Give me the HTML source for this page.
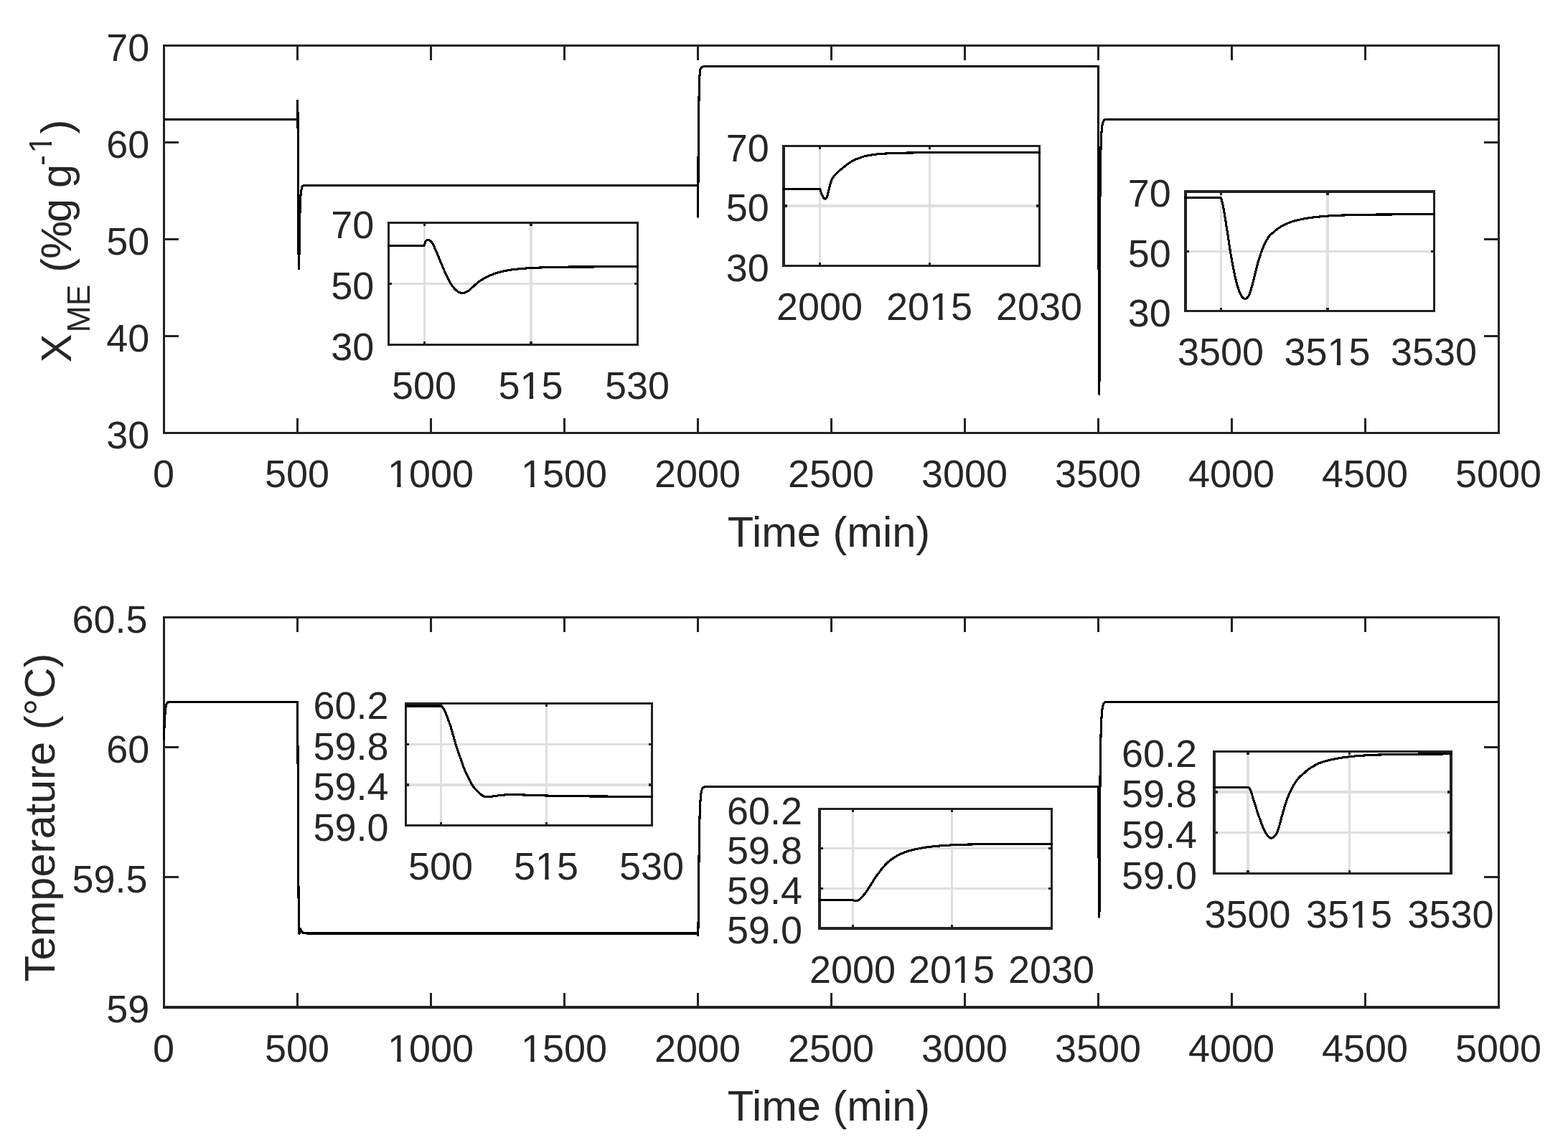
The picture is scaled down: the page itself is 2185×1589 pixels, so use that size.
<!DOCTYPE html>
<html lang="en">
<head>
<meta charset="utf-8">
<title>Step responses: X_ME and temperature versus time</title>
<style>
html,body{margin:0;padding:0;background:#fff;}
body{width:2185px;height:1589px;overflow:hidden;}
svg{display:block;font-family:'Liberation Sans', Arial, Helvetica, sans-serif;}
.ax{fill:none;stroke:#222222;stroke-width:3.125;stroke-linecap:butt;stroke-linejoin:miter;shape-rendering:crispEdges;}
.gr{fill:none;stroke:#dfdfdf;stroke-width:3.125;shape-rendering:crispEdges;}
.cv{fill:none;stroke:#000;stroke-width:3.125;stroke-linejoin:round;stroke-linecap:butt;shape-rendering:crispEdges;}
.tl{font-size:53.94px;fill:#262626;}
.al{font-size:59.58px;fill:#262626;}
</style>
</head>
<body>
<svg xmlns="http://www.w3.org/2000/svg" width="2185" height="1589" viewBox="0 0 2185 1589">
<rect width="2185" height="1589" fill="#fff"/>
<g id="axes-top">
<path class="ax" d="M414.5 603.5v-20.2M414.5 63.5v20.2M600.5 603.5v-20.2M600.5 63.5v20.2M786.5 603.5v-20.2M786.5 63.5v20.2M972.5 603.5v-20.2M972.5 63.5v20.2M1158.5 603.5v-20.2M1158.5 63.5v20.2M1344.5 603.5v-20.2M1344.5 63.5v20.2M1530.5 603.5v-20.2M1530.5 63.5v20.2M1716.5 603.5v-20.2M1716.5 63.5v20.2M1902.5 603.5v-20.2M1902.5 63.5v20.2M228.5 468.5h20.2M2088.5 468.5h-20.2M228.5 333.5h20.2M2088.5 333.5h-20.2M228.5 198.5h20.2M2088.5 198.5h-20.2"/>
<rect class="ax" x="228.5" y="63.5" width="1860" height="540"/>
<polyline class="cv" points="228.5,166.51 414.5,166.51 414.54,154.09 414.57,146.92 414.61,142.7 414.65,141.17 414.69,140.32 414.72,140.06 414.76,140.89 414.8,142.51 414.83,144.48 414.87,147.33 414.91,150.99 414.95,156.06 414.98,162.59 415.02,169.12 415.06,175.95 415.1,183.01 415.13,190.26 415.17,197.73 415.21,205.34 415.24,213.03 415.28,220.7 415.32,228.3 415.36,235.93 415.39,243.59 415.43,251.23 415.47,258.77 415.5,266.16 415.54,273.4 415.58,280.61 415.62,287.72 415.65,294.65 415.69,301.33 415.73,307.69 415.76,313.89 415.8,319.96 415.84,325.79 415.88,331.27 415.91,336.29 415.95,340.81 415.99,345.06 416.03,349.04 416.06,352.73 416.1,356.12 416.14,359.19 416.17,362.18 416.21,365.12 416.25,367.82 416.29,370.1 416.32,371.76 416.36,372.74 416.4,373.56 416.43,374.22 416.47,374.66 416.51,374.79 416.55,374.52 416.58,373.85 416.62,372.87 416.66,371.64 416.69,370.25 416.73,368.77 416.77,367.24 416.81,365.24 416.84,362.78 416.88,360.03 416.92,357.17 416.96,354.36 416.99,351.62 417.03,348.77 417.07,345.84 417.1,342.91 417.14,340.02 417.18,337.24 417.22,334.47 417.25,331.7 417.29,329 417.33,326.41 417.36,324 417.4,321.79 417.44,319.75 417.48,317.81 417.51,315.95 417.55,314.1 417.59,312.23 417.62,310.31 417.66,308.38 417.7,306.48 417.74,304.66 417.77,302.98 417.81,301.45 417.85,300.04 417.89,298.71 417.92,297.44 417.96,296.21 418,294.98 418.03,293.78 418.07,292.6 418.11,291.45 418.15,290.33 418.18,289.23 418.22,288.16 418.26,287.08 418.29,286.03 418.33,284.99 418.37,283.99 418.41,283.05 418.44,282.16 418.48,281.33 418.52,280.53 418.55,279.75 418.59,279 418.63,278.28 418.67,277.58 418.7,276.9 418.74,276.25 418.78,275.61 418.82,274.99 418.85,274.39 418.89,273.8 418.93,273.24 418.96,272.7 419,272.19 419.04,271.72 419.08,271.3 419.11,270.9 419.15,270.52 419.19,270.16 419.22,269.82 419.26,269.49 419.3,269.17 419.34,268.86 419.37,268.55 419.41,268.25 419.45,267.94 419.48,267.63 419.52,267.33 419.56,267.04 419.6,266.75 419.63,266.47 419.67,266.2 419.71,265.94 419.75,265.69 419.78,265.46 419.82,265.24 419.86,265.03 419.89,264.83 419.93,264.64 419.97,264.44 420.01,264.26 420.04,264.07 420.08,263.89 420.12,263.72 420.15,263.55 420.19,263.38 420.23,263.23 420.27,263.07 420.3,262.92 420.34,262.78 420.38,262.64 420.41,262.51 420.45,262.38 420.49,262.26 420.53,262.15 420.56,262.04 420.6,261.94 420.64,261.84 420.68,261.73 420.71,261.63 420.75,261.53 420.79,261.43 420.82,261.33 420.86,261.24 420.9,261.14 420.94,261.05 420.97,260.95 421.01,260.86 421.05,260.77 421.08,260.68 421.12,260.59 421.16,260.5 421.2,260.42 421.23,260.33 421.27,260.25 421.31,260.17 421.34,260.1 421.38,260.02 421.42,259.95 421.46,259.88 421.49,259.81 421.53,259.74 421.57,259.67 421.61,259.61 421.64,259.55 421.68,259.5 421.72,259.44 421.75,259.39 421.79,259.34 421.83,259.3 421.87,259.25 421.9,259.21 421.94,259.17 421.98,259.14 422.01,259.11 422.05,259.08 422.09,259.06 422.13,259.04 422.16,259.02 422.2,259 422.24,258.98 422.27,258.96 422.31,258.94 422.35,258.93 422.39,258.91 422.42,258.89 422.46,258.88 422.5,258.86 422.54,258.85 422.57,258.84 422.61,258.82 422.65,258.81 422.68,258.8 422.72,258.79 422.76,258.77 422.8,258.76 422.83,258.75 422.87,258.74 422.91,258.73 422.94,258.72 422.98,258.72 423.02,258.71 423.06,258.7 423.09,258.69 423.13,258.69 423.17,258.68 423.2,258.67 423.24,258.67 423.28,258.66 423.32,258.66 423.35,258.65 423.39,258.65 423.43,258.64 423.5,258.64 423.54,258.63 423.61,258.63 423.65,258.62 423.73,258.62 423.76,258.61 423.87,258.61 423.91,258.6 424.02,258.6 424.06,258.59 424.17,258.59 424.21,258.58 424.36,258.58 424.4,258.57 424.54,258.57 424.58,258.56 424.77,258.56 424.8,258.55 425.03,258.55 425.06,258.54 425.36,258.54 425.4,258.53 425.77,258.53 425.81,258.52 426.4,258.52 426.44,258.51 427.3,258.51 427.33,258.5 431.05,258.5 431.09,258.49 972.5,258.49 972.54,271.46 972.57,280.94 972.61,287.67 972.65,293.1 972.69,297.99 972.72,300.83 972.76,302.13 972.8,300.05 972.83,294.79 972.87,284.72 972.91,271.31 972.95,258.14 972.98,244.87 973.02,232.97 973.06,223.08 973.1,215 973.13,208.76 973.17,203.52 973.21,199.15 973.24,195.48 973.28,192.24 973.32,189.22 973.36,186.16 973.39,182.88 973.43,179.47 973.47,176.08 973.5,172.83 973.54,169.83 973.58,167.08 973.62,164.5 973.65,161.98 973.69,159.41 973.73,156.75 973.76,154.05 973.8,151.37 973.84,148.79 973.88,146.36 973.91,144.03 973.95,141.79 973.99,139.61 974.03,137.47 974.06,135.33 974.1,133.22 974.14,131.21 974.17,129.37 974.21,127.74 974.25,126.25 974.29,124.84 974.32,123.41 974.36,121.9 974.4,120.44 974.43,119.21 974.47,118.11 974.51,117.04 974.55,115.92 974.58,114.8 974.62,113.69 974.66,112.54 974.69,111.4 974.73,110.39 974.77,109.55 974.81,108.79 974.84,108.1 974.88,107.43 974.92,106.78 974.96,106.15 974.99,105.54 975.03,104.96 975.07,104.4 975.1,103.88 975.14,103.38 975.18,102.88 975.22,102.41 975.25,101.95 975.29,101.52 975.33,101.13 975.36,100.77 975.4,100.44 975.44,100.11 975.48,99.8 975.51,99.5 975.55,99.21 975.59,98.94 975.62,98.68 975.66,98.43 975.7,98.19 975.74,97.98 975.77,97.78 975.81,97.6 975.85,97.44 975.89,97.29 975.92,97.14 975.96,96.99 976,96.85 976.03,96.71 976.07,96.57 976.11,96.44 976.15,96.31 976.18,96.19 976.22,96.06 976.26,95.94 976.29,95.83 976.33,95.71 976.37,95.6 976.41,95.5 976.44,95.39 976.48,95.29 976.52,95.2 976.55,95.11 976.59,95.02 976.63,94.93 976.67,94.85 976.7,94.77 976.74,94.7 976.78,94.62 976.82,94.56 976.85,94.49 976.89,94.43 976.93,94.38 976.96,94.32 977,94.28 977.04,94.23 977.08,94.19 977.11,94.15 977.15,94.11 977.19,94.08 977.22,94.05 977.26,94.01 977.3,93.98 977.34,93.96 977.37,93.93 977.41,93.9 977.45,93.88 977.48,93.85 977.52,93.83 977.56,93.8 977.6,93.78 977.63,93.76 977.67,93.74 977.71,93.71 977.75,93.69 977.78,93.67 977.82,93.65 977.86,93.62 977.89,93.6 977.93,93.58 977.97,93.56 978.01,93.53 978.04,93.51 978.08,93.49 978.12,93.47 978.15,93.45 978.19,93.43 978.23,93.41 978.27,93.39 978.3,93.37 978.34,93.35 978.38,93.34 978.41,93.32 978.45,93.3 978.49,93.28 978.53,93.27 978.56,93.25 978.6,93.24 978.64,93.22 978.68,93.2 978.71,93.19 978.75,93.17 978.79,93.16 978.82,93.14 978.86,93.13 978.9,93.11 978.94,93.1 978.97,93.08 979.01,93.07 979.05,93.06 979.08,93.04 979.12,93.03 979.16,93.02 979.2,93 979.23,92.99 979.27,92.98 979.31,92.97 979.34,92.95 979.38,92.94 979.42,92.93 979.46,92.92 979.49,92.91 979.53,92.9 979.57,92.89 979.61,92.88 979.64,92.87 979.68,92.86 979.72,92.85 979.75,92.84 979.79,92.83 979.83,92.82 979.87,92.81 979.9,92.81 979.94,92.8 979.98,92.79 980.01,92.78 980.05,92.77 980.09,92.76 980.13,92.75 980.16,92.75 980.2,92.74 980.24,92.73 980.27,92.72 980.31,92.71 980.35,92.71 980.39,92.7 980.42,92.69 980.46,92.68 980.5,92.68 980.54,92.67 980.57,92.66 980.61,92.65 980.65,92.65 980.68,92.64 980.72,92.63 980.76,92.63 980.8,92.62 980.83,92.61 980.87,92.61 980.91,92.6 980.94,92.6 980.98,92.59 981.02,92.58 981.06,92.58 981.09,92.57 981.13,92.57 981.17,92.56 981.2,92.56 981.24,92.55 981.28,92.55 981.32,92.54 981.35,92.54 981.39,92.53 981.47,92.53 981.5,92.52 981.54,92.52 981.58,92.51 981.65,92.51 981.69,92.5 981.76,92.5 981.8,92.49 981.87,92.49 981.91,92.48 981.99,92.48 982.02,92.47 982.06,92.47 982.1,92.46 982.21,92.46 982.25,92.45 982.32,92.45 982.36,92.44 982.43,92.44 982.47,92.43 982.54,92.43 982.58,92.42 982.69,92.42 982.73,92.41 982.8,92.41 982.84,92.4 982.95,92.4 982.99,92.39 983.1,92.39 983.14,92.38 983.25,92.38 983.29,92.37 983.44,92.37 983.47,92.36 983.62,92.36 983.66,92.35 983.85,92.35 983.88,92.34 984.11,92.34 984.14,92.33 984.48,92.33 984.52,92.32 984.96,92.32 985,92.31 985.48,92.31 985.52,92.3 986.08,92.3 986.12,92.29 986.75,92.29 986.78,92.28 987.53,92.28 987.57,92.27 988.68,92.27 988.72,92.26 990.06,92.26 1530.5,92.25 1530.54,102.77 1530.57,115.47 1530.61,129.92 1530.65,146.93 1530.69,167 1530.72,187.99 1530.76,208.09 1530.8,228.03 1530.83,248.24 1530.87,269.06 1530.91,291.12 1530.95,313.15 1530.98,333.46 1531.02,352.23 1531.06,370.05 1531.1,387.21 1531.13,403.99 1531.17,420.48 1531.21,436.39 1531.24,451.39 1531.28,465.3 1531.32,478.35 1531.36,489.92 1531.39,499.88 1531.43,508.97 1531.47,517.12 1531.5,524.24 1531.54,530.79 1531.58,536.69 1531.62,541.22 1531.65,544.21 1531.69,546.82 1531.73,548.68 1531.76,549.33 1531.8,548.33 1531.84,545.96 1531.88,542.82 1531.91,539.17 1531.95,533.82 1531.99,527.05 1532.03,518.89 1532.06,508.17 1532.1,496.34 1532.14,484.77 1532.17,472.91 1532.21,460.57 1532.25,447.48 1532.29,433.85 1532.32,420.75 1532.36,408.02 1532.4,395.82 1532.43,384.37 1532.47,373.46 1532.51,363.04 1532.55,352.98 1532.58,343.22 1532.62,333.98 1532.66,325.47 1532.69,317.43 1532.73,309.8 1532.77,302.67 1532.81,296.14 1532.84,290.07 1532.88,284.21 1532.92,278.65 1532.96,273.45 1532.99,268.69 1533.03,264.47 1533.07,260.83 1533.1,257.63 1533.14,254.75 1533.18,252.1 1533.22,249.55 1533.25,247.02 1533.29,244.39 1533.33,241.68 1533.36,238.95 1533.4,236.25 1533.44,233.6 1533.48,231.07 1533.51,228.67 1533.55,226.46 1533.59,224.4 1533.62,222.44 1533.66,220.56 1533.7,218.77 1533.74,217.05 1533.77,215.4 1533.81,213.8 1533.85,212.28 1533.89,210.84 1533.92,209.46 1533.96,208.12 1534,206.79 1534.03,205.45 1534.07,204.09 1534.11,202.73 1534.15,201.44 1534.18,200.25 1534.22,199.21 1534.26,198.28 1534.29,197.43 1534.33,196.59 1534.37,195.73 1534.41,194.89 1534.44,194.07 1534.48,193.28 1534.52,192.53 1534.55,191.8 1534.59,191.1 1534.63,190.41 1534.67,189.73 1534.7,189.06 1534.74,188.4 1534.78,187.76 1534.82,187.14 1534.85,186.55 1534.89,185.97 1534.93,185.41 1534.96,184.87 1535,184.34 1535.04,183.82 1535.08,183.31 1535.11,182.8 1535.15,182.3 1535.19,181.8 1535.22,181.32 1535.26,180.87 1535.3,180.44 1535.34,180.04 1535.37,179.66 1535.41,179.29 1535.45,178.93 1535.48,178.59 1535.52,178.26 1535.56,177.94 1535.6,177.63 1535.63,177.32 1535.67,177.03 1535.71,176.73 1535.75,176.44 1535.78,176.15 1535.82,175.87 1535.86,175.59 1535.89,175.32 1535.93,175.06 1535.97,174.8 1536.01,174.55 1536.04,174.32 1536.08,174.09 1536.12,173.88 1536.15,173.67 1536.19,173.47 1536.23,173.28 1536.27,173.08 1536.3,172.89 1536.34,172.7 1536.38,172.51 1536.41,172.33 1536.45,172.16 1536.49,171.99 1536.53,171.82 1536.56,171.66 1536.6,171.5 1536.64,171.35 1536.68,171.21 1536.71,171.07 1536.75,170.95 1536.79,170.82 1536.82,170.71 1536.86,170.61 1536.9,170.51 1536.94,170.42 1536.97,170.33 1537.01,170.24 1537.05,170.15 1537.08,170.06 1537.12,169.97 1537.16,169.88 1537.2,169.8 1537.23,169.71 1537.27,169.63 1537.31,169.55 1537.34,169.47 1537.38,169.39 1537.42,169.31 1537.46,169.23 1537.49,169.16 1537.53,169.08 1537.57,169.01 1537.61,168.94 1537.64,168.86 1537.68,168.79 1537.72,168.73 1537.75,168.66 1537.79,168.59 1537.83,168.53 1537.87,168.46 1537.9,168.4 1537.94,168.34 1537.98,168.28 1538.01,168.22 1538.05,168.17 1538.09,168.11 1538.13,168.06 1538.16,168.01 1538.2,167.96 1538.24,167.91 1538.27,167.86 1538.31,167.81 1538.35,167.77 1538.39,167.73 1538.42,167.68 1538.46,167.64 1538.5,167.6 1538.54,167.57 1538.57,167.53 1538.61,167.5 1538.65,167.47 1538.68,167.44 1538.72,167.41 1538.76,167.38 1538.8,167.35 1538.83,167.33 1538.87,167.31 1538.91,167.29 1538.94,167.27 1538.98,167.25 1539.02,167.23 1539.06,167.22 1539.09,167.2 1539.13,167.19 1539.17,167.17 1539.2,167.16 1539.24,167.15 1539.28,167.14 1539.32,167.12 1539.35,167.11 1539.39,167.1 1539.43,167.09 1539.47,167.08 1539.5,167.07 1539.54,167.06 1539.58,167.05 1539.61,167.04 1539.65,167.03 1539.69,167.02 1539.73,167.01 1539.76,167 1539.8,166.99 1539.84,166.98 1539.87,166.97 1539.91,166.96 1539.95,166.95 1539.99,166.94 1540.02,166.93 1540.06,166.93 1540.1,166.92 1540.13,166.91 1540.17,166.9 1540.21,166.89 1540.25,166.88 1540.28,166.88 1540.32,166.87 1540.36,166.86 1540.4,166.86 1540.43,166.85 1540.47,166.84 1540.51,166.84 1540.54,166.83 1540.58,166.82 1540.62,166.82 1540.66,166.81 1540.69,166.81 1540.73,166.8 1540.77,166.79 1540.8,166.79 1540.84,166.78 1540.88,166.78 1540.92,166.77 1540.95,166.77 1540.99,166.76 1541.03,166.75 1541.06,166.75 1541.1,166.74 1541.14,166.74 1541.18,166.73 1541.25,166.73 1541.29,166.72 1541.33,166.72 1541.36,166.71 1541.4,166.71 1541.44,166.7 1541.51,166.7 1541.55,166.69 1541.62,166.69 1541.66,166.68 1541.73,166.68 1541.77,166.67 1541.85,166.67 1541.88,166.66 1541.99,166.66 1542.03,166.65 1542.11,166.65 1542.14,166.64 1542.26,166.64 1542.29,166.63 1542.4,166.63 1542.44,166.62 1542.55,166.62 1542.59,166.61 1542.7,166.61 1542.74,166.6 1542.89,166.6 1542.92,166.59 1543.11,166.59 1543.15,166.58 1543.37,166.58 1543.41,166.57 1543.71,166.57 1543.74,166.56 1544.08,166.56 1544.12,166.55 1544.52,166.55 1544.56,166.54 1545.01,166.54 1545.05,166.53 1545.64,166.53 1545.68,166.52 1547.31,166.52 1547.35,166.51 2088.5,166.51"/>
<g class="tl">
<text x="213" y="679.4">0</text>
<text x="369" y="679.4">500</text>
<text x="540" y="679.4">1000</text>
<text x="726" y="679.4">1500</text>
<text x="912" y="679.4">2000</text>
<text x="1098" y="679.4">2500</text>
<text x="1284" y="679.4">3000</text>
<text x="1470" y="679.4">3500</text>
<text x="1656" y="679.4">4000</text>
<text x="1842" y="679.4">4500</text>
<text x="2028" y="679.4">5000</text>
<text x="148.3" y="624.8">30</text>
<text x="148.3" y="489.8">40</text>
<text x="148.3" y="354.8">50</text>
<text x="148.3" y="219.8">60</text>
<text x="148.3" y="84.8">70</text>
</g>
<text class="al" text-anchor="middle" x="1155" y="761.5">Time (min)</text>
</g>
<g id="inset-a1">
<rect x="541.5" y="310.5" width="347" height="170" fill="#fff"/>
<path class="gr" d="M591.5 310.5V480.5M740 310.5V480.5M541.5 395.5H888.5"/>
<path class="ax" d="M591.5 480.5v-4.6M591.5 310.5v4.6M740 480.5v-4.6M740 310.5v4.6M541.5 395.5h4.6M888.5 395.5h-4.6"/>
<rect class="ax" x="541.5" y="310.5" width="347" height="170"/>
<polyline class="cv" points="539.94,342.93 591.07,342.93 592.06,339.02 593.05,336.76 594.05,335.43 595.04,334.95 596.03,334.68 597.02,334.6 598.01,334.86 599,335.37 599.99,335.99 600.99,336.89 601.98,338.04 602.97,339.64 603.96,341.69 604.95,343.75 605.94,345.9 606.93,348.12 607.93,350.41 608.92,352.76 609.91,355.15 610.9,357.57 611.89,359.99 612.88,362.38 613.87,364.78 614.87,367.19 615.86,369.6 616.85,371.97 617.84,374.3 618.83,376.58 619.82,378.85 620.81,381.09 621.81,383.27 622.8,385.37 623.79,387.37 624.78,389.33 625.77,391.24 626.76,393.07 627.75,394.8 628.75,396.38 629.74,397.8 630.73,399.14 631.72,400.39 632.71,401.55 633.7,402.62 634.69,403.59 635.69,404.53 636.68,405.46 637.67,406.31 638.66,407.02 639.65,407.54 640.64,407.85 641.63,408.11 642.63,408.32 643.62,408.46 644.61,408.5 645.6,408.41 646.59,408.2 647.58,407.89 648.57,407.51 649.57,407.07 650.56,406.6 651.55,406.12 652.54,405.49 653.53,404.72 654.52,403.85 655.51,402.95 656.51,402.07 657.5,401.21 658.49,400.31 659.48,399.39 660.47,398.46 661.46,397.55 662.45,396.68 663.45,395.8 664.44,394.93 665.43,394.08 666.42,393.27 667.41,392.51 668.4,391.81 669.39,391.17 670.39,390.56 671.38,389.97 672.37,389.39 673.36,388.8 674.35,388.2 675.34,387.59 676.33,386.99 677.33,386.42 678.32,385.89 679.31,385.41 680.3,384.97 681.29,384.55 682.28,384.15 683.27,383.76 684.27,383.37 685.26,382.99 686.25,382.62 687.24,382.26 688.23,381.91 689.22,381.56 690.21,381.22 691.21,380.89 692.2,380.55 693.19,380.23 694.18,379.91 695.17,379.62 696.16,379.34 697.15,379.08 698.15,378.82 699.14,378.58 700.13,378.34 701.12,378.12 702.11,377.9 703.1,377.68 704.09,377.48 705.09,377.28 706.08,377.08 707.07,376.89 708.06,376.71 709.05,376.53 710.04,376.36 711.03,376.2 712.03,376.05 713.02,375.92 714.01,375.79 715,375.67 715.99,375.56 716.98,375.45 717.97,375.35 718.97,375.25 719.96,375.15 720.95,375.05 721.94,374.96 722.93,374.86 723.92,374.76 724.91,374.67 725.91,374.58 726.9,374.49 727.89,374.4 728.88,374.31 729.87,374.23 730.86,374.15 731.85,374.08 732.85,374.01 733.84,373.95 734.83,373.88 735.82,373.82 736.81,373.76 737.8,373.7 738.79,373.64 739.79,373.59 740.78,373.53 741.77,373.48 742.76,373.43 743.75,373.38 744.74,373.33 745.73,373.28 746.73,373.24 747.72,373.19 748.71,373.15 749.7,373.11 750.69,373.07 751.68,373.04 752.67,373 753.67,372.97 754.66,372.94 755.65,372.91 756.64,372.88 757.63,372.84 758.62,372.81 759.61,372.78 760.61,372.75 761.6,372.72 762.59,372.69 763.58,372.66 764.57,372.63 765.56,372.6 766.55,372.57 767.55,372.55 768.54,372.52 769.53,372.49 770.52,372.47 771.51,372.44 772.5,372.42 773.49,372.39 774.49,372.37 775.48,372.34 776.47,372.32 777.46,372.3 778.45,372.28 779.44,372.26 780.43,372.24 781.43,372.22 782.42,372.2 783.41,372.19 784.4,372.17 785.39,372.15 786.38,372.14 787.37,372.13 788.37,372.11 789.36,372.1 790.35,372.09 791.34,372.08 792.33,372.07 793.32,372.06 794.31,372.06 795.31,372.05 796.3,372.05 797.29,372.04 798.28,372.03 799.27,372.03 800.26,372.02 801.25,372.02 802.25,372.01 803.24,372.01 804.23,372 805.22,372 806.21,371.99 808.19,371.99 809.19,371.98 811.17,371.98 812.16,371.97 814.14,371.97 815.13,371.96 817.12,371.96 818.11,371.95 822.07,371.95 823.07,371.94 828.02,371.94 829.01,371.93 836.95,371.93 837.94,371.92 849.83,371.92 850.83,371.91 867.68,371.91 868.67,371.9 890.06,371.9"/>
<g class="tl">
<text x="546" y="556.4">500</text>
<text x="694.5" y="556.4">515</text>
<text x="843" y="556.4">530</text>
<text x="461.3" y="501.8">30</text>
<text x="461.3" y="416.8">50</text>
<text x="461.3" y="331.8">70</text>
</g>
</g>
<g id="inset-a2">
<rect x="1092" y="203.5" width="356.5" height="167" fill="#fff"/>
<path class="gr" d="M1142.5 203.5V370.5M1295.5 203.5V370.5M1092 287H1448.5"/>
<path class="ax" d="M1142.5 370.5v-4.6M1142.5 203.5v4.6M1295.5 370.5v-4.6M1295.5 203.5v4.6M1092 287h4.6M1448.5 287h-4.6"/>
<rect class="ax" x="1092" y="203.5" width="356.5" height="167"/>
<polyline class="cv" points="1090.44,263.8 1142.93,263.8 1143.95,267.81 1144.97,270.74 1145.98,272.83 1147,274.5 1148.02,276.02 1149.04,276.9 1150.06,277.3 1151.08,276.66 1152.1,275.03 1153.11,271.92 1154.13,267.77 1155.15,263.69 1156.17,259.59 1157.19,255.91 1158.21,252.85 1159.23,250.35 1160.24,248.42 1161.26,246.8 1162.28,245.45 1163.3,244.31 1164.32,243.32 1165.34,242.38 1166.36,241.43 1167.37,240.42 1168.39,239.37 1169.41,238.32 1170.43,237.31 1171.45,236.38 1172.47,235.53 1173.49,234.74 1174.5,233.95 1175.52,233.16 1176.54,232.34 1177.56,231.5 1178.58,230.68 1179.6,229.88 1180.62,229.12 1181.63,228.41 1182.65,227.71 1183.67,227.04 1184.69,226.38 1185.71,225.71 1186.73,225.06 1187.75,224.44 1188.76,223.87 1189.78,223.37 1190.8,222.91 1191.82,222.47 1192.84,222.03 1193.86,221.56 1194.88,221.11 1195.89,220.73 1196.91,220.39 1197.93,220.06 1198.95,219.71 1199.97,219.37 1200.99,219.02 1202.01,218.67 1203.02,218.31 1204.04,218 1205.06,217.74 1206.08,217.51 1207.1,217.29 1208.12,217.09 1209.14,216.88 1210.15,216.69 1211.17,216.5 1212.19,216.32 1213.21,216.15 1214.23,215.99 1215.25,215.83 1216.27,215.68 1217.28,215.53 1218.3,215.39 1219.32,215.26 1220.34,215.14 1221.36,215.02 1222.38,214.92 1223.4,214.82 1224.41,214.73 1225.43,214.63 1226.45,214.54 1227.47,214.46 1228.49,214.38 1229.51,214.3 1230.53,214.23 1231.54,214.16 1232.56,214.1 1233.58,214.05 1234.6,214 1235.62,213.95 1236.64,213.9 1237.66,213.86 1238.67,213.81 1239.69,213.77 1240.71,213.73 1241.73,213.69 1242.75,213.65 1243.77,213.61 1244.79,213.57 1245.8,213.53 1246.82,213.5 1247.84,213.46 1248.86,213.43 1249.88,213.4 1250.9,213.36 1251.92,213.33 1252.93,213.3 1253.95,213.27 1254.97,213.25 1255.99,213.22 1257.01,213.19 1258.03,213.17 1259.05,213.15 1260.06,213.13 1261.08,213.1 1262.1,213.08 1263.12,213.07 1264.14,213.05 1265.16,213.03 1266.18,213.02 1267.19,213 1268.21,212.99 1269.23,212.98 1270.25,212.97 1271.27,212.96 1272.29,212.95 1273.31,212.94 1274.32,212.93 1275.34,212.92 1276.36,212.91 1277.38,212.9 1278.4,212.89 1279.42,212.89 1280.44,212.88 1281.45,212.87 1282.47,212.86 1283.49,212.86 1284.51,212.85 1285.53,212.84 1286.55,212.84 1287.57,212.83 1288.58,212.82 1289.6,212.82 1290.62,212.81 1291.64,212.8 1292.66,212.8 1293.68,212.79 1294.7,212.78 1295.71,212.78 1296.73,212.77 1297.75,212.76 1298.77,212.76 1299.79,212.75 1300.81,212.74 1301.83,212.74 1302.84,212.73 1303.86,212.73 1304.88,212.72 1305.9,212.72 1306.92,212.71 1307.94,212.71 1308.96,212.7 1309.97,212.7 1310.99,212.69 1312.01,212.69 1313.03,212.68 1314.05,212.68 1315.07,212.67 1316.09,212.67 1317.1,212.66 1318.12,212.66 1319.14,212.65 1321.18,212.65 1322.2,212.64 1323.22,212.64 1324.23,212.63 1325.25,212.63 1326.27,212.62 1328.31,212.62 1329.33,212.61 1331.36,212.61 1332.38,212.6 1334.42,212.6 1335.44,212.59 1337.48,212.59 1338.49,212.58 1340.53,212.58 1341.55,212.57 1344.61,212.57 1345.62,212.56 1347.66,212.56 1348.68,212.55 1351.74,212.55 1352.75,212.54 1355.81,212.54 1356.83,212.53 1360.9,212.53 1361.92,212.52 1364.98,212.52 1366,212.51 1370.07,212.51 1371.09,212.5 1375.16,212.5 1376.18,212.49 1381.27,212.49 1382.29,212.48 1389.42,212.48 1390.44,212.47 1398.59,212.47 1399.61,212.46 1407.76,212.46 1408.78,212.45 1418.96,212.45 1419.98,212.44 1430.17,212.44 1431.18,212.43 1445.44,212.43 1446.46,212.42 1450.06,212.42"/>
<g class="tl">
<text x="1082" y="446.4">2000</text>
<text x="1235" y="446.4">2015</text>
<text x="1388" y="446.4">2030</text>
<text x="1011.8" y="391.8">30</text>
<text x="1011.8" y="308.3">50</text>
<text x="1011.8" y="224.8">70</text>
</g>
</g>
<g id="inset-a3">
<rect x="1652" y="267" width="346.5" height="166.5" fill="#fff"/>
<path class="gr" d="M1701.5 267V433.5M1850 267V433.5M1652 350.5H1998.5"/>
<path class="ax" d="M1701.5 433.5v-4.6M1701.5 267v4.6M1850 433.5v-4.6M1850 267v4.6M1652 350.5h4.6M1998.5 350.5h-4.6"/>
<rect class="ax" x="1652" y="267" width="346.5" height="166.5"/>
<polyline class="cv" points="1650.44,275.87 1701.5,275.87 1702.49,279.11 1703.48,283.02 1704.47,287.48 1705.46,292.72 1706.45,298.91 1707.44,305.38 1708.43,311.58 1709.42,317.73 1710.41,323.96 1711.4,330.38 1712.39,337.18 1713.38,343.98 1714.37,350.24 1715.36,356.02 1716.35,361.52 1717.34,366.81 1718.33,371.99 1719.32,377.07 1720.31,381.97 1721.3,386.6 1722.29,390.89 1723.28,394.91 1724.27,398.48 1725.26,401.55 1726.25,404.35 1727.24,406.87 1728.23,409.06 1729.22,411.08 1730.21,412.9 1731.2,414.3 1732.19,415.22 1733.18,416.02 1734.17,416.6 1735.16,416.8 1736.15,416.49 1737.14,415.76 1738.13,414.79 1739.12,413.67 1740.11,412.02 1741.1,409.93 1742.09,407.41 1743.08,404.11 1744.07,400.46 1745.06,396.89 1746.05,393.23 1747.04,389.43 1748.03,385.39 1749.02,381.19 1750.01,377.15 1751,373.23 1751.99,369.47 1752.98,365.94 1753.97,362.57 1754.96,359.36 1755.95,356.26 1756.94,353.25 1757.93,350.4 1758.92,347.78 1759.91,345.3 1760.9,342.94 1761.89,340.75 1762.88,338.73 1763.87,336.86 1764.86,335.05 1765.85,333.34 1766.84,331.73 1767.83,330.27 1768.82,328.97 1769.81,327.84 1770.8,326.86 1771.79,325.97 1772.78,325.15 1773.77,324.37 1774.76,323.58 1775.75,322.77 1776.74,321.94 1777.73,321.1 1778.72,320.26 1779.71,319.45 1780.7,318.67 1781.69,317.93 1782.68,317.25 1783.67,316.61 1784.66,316.01 1785.65,315.43 1786.64,314.87 1787.63,314.35 1788.62,313.84 1789.61,313.34 1790.6,312.87 1791.59,312.43 1792.58,312.01 1793.57,311.59 1794.56,311.18 1795.55,310.77 1796.54,310.35 1797.53,309.93 1798.52,309.53 1799.51,309.17 1800.5,308.84 1801.49,308.56 1802.48,308.29 1803.47,308.03 1804.46,307.77 1805.45,307.51 1806.44,307.26 1807.43,307.02 1808.42,306.78 1809.41,306.56 1810.4,306.34 1811.39,306.13 1812.38,305.92 1813.37,305.71 1814.36,305.51 1815.35,305.31 1816.34,305.12 1817.33,304.94 1818.32,304.76 1819.31,304.59 1820.3,304.42 1821.29,304.26 1822.28,304.1 1823.27,303.94 1824.26,303.78 1825.25,303.63 1826.24,303.48 1827.23,303.33 1828.22,303.19 1829.21,303.06 1830.2,302.93 1831.19,302.81 1832.18,302.7 1833.17,302.59 1834.16,302.49 1835.15,302.38 1836.14,302.29 1837.13,302.19 1838.12,302.1 1839.11,302 1840.1,301.91 1841.09,301.82 1842.08,301.73 1843.07,301.65 1844.06,301.56 1845.05,301.48 1846.04,301.4 1847.03,301.32 1848.02,301.24 1849.01,301.17 1850,301.1 1850.99,301.03 1851.98,300.97 1852.97,300.91 1853.96,300.85 1854.95,300.79 1855.94,300.73 1856.93,300.67 1857.92,300.61 1858.91,300.56 1859.9,300.5 1860.89,300.45 1861.88,300.4 1862.87,300.35 1863.86,300.3 1864.85,300.25 1865.84,300.21 1866.83,300.17 1867.82,300.13 1868.81,300.09 1869.8,300.06 1870.79,300.02 1871.78,299.99 1872.77,299.97 1873.76,299.94 1874.75,299.91 1875.74,299.88 1876.73,299.86 1877.72,299.83 1878.71,299.8 1879.7,299.78 1880.69,299.75 1881.68,299.72 1882.67,299.7 1883.66,299.67 1884.65,299.65 1885.64,299.62 1886.63,299.6 1887.62,299.58 1888.61,299.55 1889.6,299.53 1890.59,299.51 1891.58,299.49 1892.57,299.47 1893.56,299.44 1894.55,299.42 1895.54,299.4 1896.53,299.38 1897.52,299.36 1898.51,299.34 1899.5,299.33 1900.49,299.31 1901.48,299.29 1902.47,299.27 1903.46,299.26 1904.45,299.24 1905.44,299.22 1906.43,299.21 1907.42,299.19 1908.41,299.18 1909.4,299.16 1910.39,299.15 1911.38,299.14 1912.37,299.12 1913.36,299.11 1914.35,299.1 1915.34,299.09 1916.33,299.08 1917.32,299.07 1918.31,299.06 1919.3,299.05 1920.29,299.04 1921.28,299.03 1922.27,299.02 1923.26,299.01 1924.25,299.01 1925.24,299 1926.23,299 1927.22,298.99 1928.21,298.98 1929.2,298.98 1930.19,298.97 1932.17,298.97 1933.16,298.96 1934.15,298.96 1935.14,298.95 1937.12,298.95 1938.11,298.94 1940.09,298.94 1941.08,298.93 1943.06,298.93 1944.05,298.92 1947.02,298.92 1948.01,298.91 1949.99,298.91 1950.98,298.9 1952.96,298.9 1953.95,298.89 1956.92,298.89 1957.91,298.88 1960.88,298.88 1961.87,298.87 1965.83,298.87 1966.82,298.86 1970.78,298.86 1971.77,298.85 1976.72,298.85 1977.71,298.84 1982.66,298.84 1983.65,298.83 1989.59,298.83 1990.58,298.82 1998.5,298.82 1999.49,298.81 2000.06,298.81"/>
<g class="tl">
<text x="1641" y="509.4">3500</text>
<text x="1789.5" y="509.4">3515</text>
<text x="1938" y="509.4">3530</text>
<text x="1571.8" y="454.8">30</text>
<text x="1571.8" y="371.8">50</text>
<text x="1571.8" y="288.3">70</text>
</g>
</g>
<g id="axes-bottom">
<path class="ax" d="M414.5 1404v-20.2M414.5 860.5v20.2M600.5 1404v-20.2M600.5 860.5v20.2M786.5 1404v-20.2M786.5 860.5v20.2M972.5 1404v-20.2M972.5 860.5v20.2M1158.5 1404v-20.2M1158.5 860.5v20.2M1344.5 1404v-20.2M1344.5 860.5v20.2M1530.5 1404v-20.2M1530.5 860.5v20.2M1716.5 1404v-20.2M1716.5 860.5v20.2M1902.5 1404v-20.2M1902.5 860.5v20.2M228.5 1222.5h20.2M2088.5 1222.5h-20.2M228.5 1041.5h20.2M2088.5 1041.5h-20.2"/>
<rect class="ax" x="228.5" y="860.5" width="1860" height="543.5"/>
<polyline class="cv" points="228.5,1030.8 228.69,1023.79 228.87,1017.72 229.06,1012.46 229.24,1007.9 229.43,1003.94 229.62,1000.51 229.8,997.54 229.99,994.96 230.17,992.73 230.36,990.79 230.55,989.12 230.73,987.66 230.92,986.4 231.1,985.31 231.29,984.36 231.48,983.54 231.66,982.82 231.85,982.21 232.03,981.67 232.22,981.21 232.41,980.81 232.59,980.46 232.78,980.15 232.96,979.89 233.15,979.67 233.34,979.47 233.52,979.3 233.71,979.15 233.89,979.02 234.08,978.91 234.27,978.81 234.45,978.73 234.64,978.66 234.82,978.59 235.01,978.54 235.2,978.49 235.38,978.45 235.57,978.42 235.75,978.39 235.94,978.36 236.13,978.34 236.31,978.32 236.5,978.3 236.68,978.28 236.87,978.27 237.06,978.26 237.24,978.25 237.43,978.24 237.61,978.23 237.8,978.23 237.99,978.22 238.17,978.22 238.36,978.21 238.73,978.21 238.92,978.2 239.66,978.2 239.85,978.19 414.5,978.19 414.54,979.78 414.57,982.17 414.61,985.12 414.65,988.95 414.69,994 414.72,999.78 414.76,1005.78 414.8,1011.73 414.83,1018.07 414.87,1024.74 414.91,1031.6 414.95,1038.67 414.98,1046.04 415.02,1053.81 415.06,1062.19 415.1,1070.95 415.13,1079.7 415.17,1088.53 415.21,1097.38 415.24,1106.37 415.28,1115.31 415.32,1123.51 415.36,1131 415.39,1138.15 415.43,1145.32 415.47,1152.43 415.5,1159.49 415.54,1166.67 415.58,1174.12 415.62,1181.61 415.65,1188.69 415.69,1195.32 415.73,1201.68 415.76,1207.76 415.8,1213.58 415.84,1219.14 415.88,1224.5 415.91,1229.71 415.95,1234.81 415.99,1239.92 416.03,1244.94 416.06,1249.74 416.1,1254.16 416.14,1258.14 416.17,1261.89 416.21,1265.46 416.25,1268.84 416.29,1272.03 416.32,1275.05 416.36,1277.88 416.4,1280.54 416.43,1283.02 416.47,1285.36 416.51,1287.56 416.55,1289.67 416.58,1291.87 416.62,1294.17 416.66,1296.38 416.69,1298.26 416.73,1299.63 416.77,1300.28 416.81,1300.69 416.84,1301.04 416.88,1301.32 416.92,1301.53 416.96,1301.66 416.99,1301.69 417.03,1301.63 417.07,1301.49 417.1,1301.29 417.14,1301.06 417.18,1300.8 417.22,1300.53 417.25,1300.28 417.29,1299.97 417.33,1299.62 417.36,1299.25 417.4,1298.87 417.44,1298.49 417.48,1298.13 417.51,1297.8 417.55,1297.48 417.59,1297.15 417.62,1296.82 417.66,1296.49 417.7,1296.18 417.74,1295.9 417.77,1295.66 417.81,1295.45 417.85,1295.3 417.89,1295.18 417.92,1295.06 417.96,1294.95 418,1294.84 418.03,1294.74 418.07,1294.65 418.11,1294.56 418.15,1294.49 418.18,1294.42 418.22,1294.37 418.26,1294.32 418.29,1294.3 418.33,1294.28 418.37,1294.28 418.41,1294.3 418.44,1294.33 418.48,1294.38 418.52,1294.44 418.55,1294.51 418.59,1294.59 418.63,1294.68 418.67,1294.77 418.7,1294.87 418.74,1294.96 418.78,1295.06 418.82,1295.15 418.85,1295.23 418.89,1295.31 418.93,1295.39 418.96,1295.47 419,1295.55 419.04,1295.63 419.08,1295.72 419.11,1295.8 419.15,1295.89 419.19,1295.98 419.22,1296.07 419.26,1296.16 419.3,1296.25 419.34,1296.34 419.37,1296.43 419.41,1296.52 419.45,1296.61 419.48,1296.7 419.52,1296.79 419.56,1296.88 419.6,1296.97 419.63,1297.05 419.67,1297.13 419.71,1297.22 419.75,1297.3 419.78,1297.37 419.82,1297.45 419.86,1297.52 419.89,1297.59 419.93,1297.66 419.97,1297.72 420.01,1297.78 420.04,1297.84 420.08,1297.89 420.12,1297.94 420.15,1297.99 420.19,1298.05 420.23,1298.1 420.27,1298.15 420.3,1298.2 420.34,1298.25 420.38,1298.3 420.41,1298.35 420.45,1298.4 420.49,1298.45 420.53,1298.5 420.56,1298.54 420.6,1298.59 420.64,1298.64 420.68,1298.69 420.71,1298.73 420.75,1298.78 420.79,1298.83 420.82,1298.87 420.86,1298.92 420.9,1298.96 420.94,1299 420.97,1299.05 421.01,1299.09 421.05,1299.13 421.08,1299.18 421.12,1299.22 421.16,1299.26 421.2,1299.3 421.23,1299.34 421.27,1299.38 421.31,1299.42 421.34,1299.46 421.38,1299.49 421.42,1299.53 421.46,1299.57 421.49,1299.6 421.53,1299.64 421.57,1299.67 421.61,1299.71 421.64,1299.74 421.68,1299.78 421.72,1299.81 421.75,1299.84 421.79,1299.87 421.83,1299.9 421.87,1299.93 421.9,1299.96 421.94,1299.99 421.98,1300.02 422.01,1300.05 422.05,1300.07 422.09,1300.1 422.13,1300.12 422.16,1300.15 422.2,1300.17 422.24,1300.2 422.27,1300.22 422.31,1300.24 422.35,1300.26 422.39,1300.28 422.42,1300.3 422.46,1300.32 422.5,1300.34 422.54,1300.36 422.57,1300.37 422.61,1300.39 422.65,1300.4 422.68,1300.42 422.72,1300.43 422.76,1300.44 422.8,1300.46 422.83,1300.47 422.87,1300.48 422.91,1300.49 422.94,1300.5 422.98,1300.51 423.02,1300.52 423.06,1300.53 423.09,1300.54 423.13,1300.55 423.17,1300.55 423.2,1300.56 423.24,1300.57 423.28,1300.58 423.32,1300.59 423.35,1300.59 423.39,1300.6 423.43,1300.61 423.47,1300.62 423.5,1300.62 423.54,1300.63 423.58,1300.64 423.61,1300.65 423.65,1300.65 423.69,1300.66 423.73,1300.67 423.76,1300.67 423.8,1300.68 423.84,1300.69 423.87,1300.69 423.91,1300.7 423.95,1300.71 423.99,1300.71 424.02,1300.72 424.06,1300.72 424.1,1300.73 424.13,1300.73 424.17,1300.74 424.21,1300.74 424.25,1300.75 424.28,1300.75 424.32,1300.76 424.36,1300.76 424.4,1300.77 424.43,1300.77 424.47,1300.78 424.54,1300.78 424.58,1300.79 424.62,1300.79 424.66,1300.8 424.69,1300.8 424.73,1300.81 424.8,1300.81 424.84,1300.82 424.88,1300.82 424.92,1300.83 424.99,1300.83 425.03,1300.84 425.14,1300.84 425.18,1300.85 425.25,1300.85 425.29,1300.86 425.4,1300.86 425.44,1300.87 425.55,1300.87 425.59,1300.88 425.7,1300.88 425.73,1300.89 425.88,1300.89 425.92,1300.9 426.07,1300.9 426.11,1300.91 426.26,1300.91 426.29,1300.92 426.48,1300.92 426.52,1300.93 426.74,1300.93 426.78,1300.94 427.04,1300.94 427.07,1300.95 427.48,1300.95 427.52,1300.96 428,1300.96 428.04,1300.97 428.6,1300.97 428.64,1300.98 429.42,1300.98 429.45,1300.99 432.02,1300.99 432.06,1301 972.5,1301 972.54,1301.66 972.57,1302.23 972.61,1302.71 972.65,1303.11 972.69,1303.49 972.72,1303.71 972.76,1303.44 972.8,1302.4 972.83,1301.06 972.87,1299.3 972.91,1296.97 972.95,1294.39 972.98,1291.89 973.02,1289.46 973.06,1287 973.1,1284.46 973.13,1281.82 973.17,1279.02 973.21,1276.05 973.24,1272.79 973.28,1269.24 973.32,1265.49 973.36,1261.65 973.39,1257.79 973.43,1254.02 973.47,1250.31 973.5,1246.59 973.54,1242.79 973.58,1238.88 973.62,1234.89 973.65,1230.91 973.69,1226.95 973.73,1223 973.76,1219.22 973.8,1215.69 973.84,1212.33 973.88,1209.12 973.91,1206.07 973.95,1203.22 973.99,1200.31 974.03,1197.11 974.06,1193.64 974.1,1190.25 974.14,1187.19 974.17,1184.36 974.21,1181.61 974.25,1178.82 974.29,1176 974.32,1173.26 974.36,1170.66 974.4,1168.18 974.43,1165.82 974.47,1163.57 974.51,1161.42 974.55,1159.37 974.58,1157.44 974.62,1155.59 974.66,1153.8 974.69,1152.07 974.73,1150.39 974.77,1148.77 974.81,1147.19 974.84,1145.65 974.88,1144.15 974.92,1142.69 974.96,1141.28 974.99,1139.91 975.03,1138.59 975.07,1137.31 975.1,1136.06 975.14,1134.85 975.18,1133.68 975.22,1132.55 975.25,1131.47 975.29,1130.43 975.33,1129.44 975.36,1128.47 975.4,1127.54 975.44,1126.64 975.48,1125.76 975.51,1124.89 975.55,1124.05 975.59,1123.23 975.62,1122.47 975.66,1121.76 975.7,1121.13 975.74,1120.54 975.77,1119.96 975.81,1119.37 975.85,1118.76 975.89,1118.14 975.92,1117.53 975.96,1116.94 976,1116.39 976.03,1115.87 976.07,1115.37 976.11,1114.88 976.15,1114.4 976.18,1113.92 976.22,1113.44 976.26,1112.97 976.29,1112.52 976.33,1112.07 976.37,1111.64 976.41,1111.22 976.44,1110.82 976.48,1110.42 976.52,1110.04 976.55,1109.66 976.59,1109.3 976.63,1108.94 976.67,1108.6 976.7,1108.25 976.74,1107.92 976.78,1107.59 976.82,1107.27 976.85,1106.96 976.89,1106.67 976.93,1106.39 976.96,1106.12 977,1105.86 977.04,1105.61 977.08,1105.37 977.11,1105.13 977.15,1104.9 977.19,1104.68 977.22,1104.46 977.26,1104.25 977.3,1104.05 977.34,1103.85 977.37,1103.66 977.41,1103.47 977.45,1103.29 977.48,1103.1 977.52,1102.92 977.56,1102.75 977.6,1102.58 977.63,1102.41 977.67,1102.24 977.71,1102.08 977.75,1101.93 977.78,1101.78 977.82,1101.63 977.86,1101.49 977.89,1101.36 977.93,1101.23 977.97,1101.1 978.01,1100.99 978.04,1100.87 978.08,1100.75 978.12,1100.64 978.15,1100.53 978.19,1100.41 978.23,1100.3 978.27,1100.19 978.3,1100.09 978.34,1099.98 978.38,1099.88 978.41,1099.78 978.45,1099.68 978.49,1099.58 978.53,1099.49 978.56,1099.39 978.6,1099.3 978.64,1099.22 978.68,1099.13 978.71,1099.05 978.75,1098.98 978.79,1098.9 978.82,1098.83 978.86,1098.76 978.9,1098.7 978.94,1098.64 978.97,1098.58 979.01,1098.53 979.05,1098.48 979.08,1098.43 979.12,1098.39 979.16,1098.34 979.2,1098.3 979.23,1098.27 979.27,1098.23 979.31,1098.19 979.34,1098.16 979.38,1098.13 979.42,1098.1 979.46,1098.06 979.49,1098.04 979.53,1098.01 979.57,1097.98 979.61,1097.95 979.64,1097.92 979.68,1097.9 979.72,1097.87 979.75,1097.85 979.79,1097.82 979.83,1097.79 979.87,1097.77 979.9,1097.74 979.94,1097.72 979.98,1097.69 980.01,1097.67 980.05,1097.64 980.09,1097.62 980.13,1097.6 980.16,1097.58 980.2,1097.55 980.24,1097.53 980.27,1097.51 980.31,1097.49 980.35,1097.47 980.39,1097.45 980.42,1097.43 980.46,1097.42 980.5,1097.4 980.54,1097.38 980.57,1097.36 980.61,1097.35 980.65,1097.33 980.68,1097.31 980.72,1097.3 980.76,1097.28 980.8,1097.27 980.83,1097.25 980.87,1097.24 980.91,1097.22 980.94,1097.21 980.98,1097.19 981.02,1097.18 981.06,1097.16 981.09,1097.15 981.13,1097.13 981.17,1097.12 981.2,1097.11 981.24,1097.1 981.28,1097.08 981.32,1097.07 981.35,1097.06 981.39,1097.05 981.43,1097.04 981.47,1097.03 981.5,1097.02 981.54,1097.01 981.58,1097 981.61,1096.99 981.65,1096.98 981.69,1096.97 981.73,1096.96 981.76,1096.95 981.8,1096.94 981.84,1096.93 981.87,1096.93 981.91,1096.92 981.95,1096.91 981.99,1096.9 982.02,1096.89 982.06,1096.89 982.1,1096.88 982.13,1096.87 982.17,1096.86 982.21,1096.86 982.25,1096.85 982.28,1096.84 982.32,1096.83 982.36,1096.83 982.4,1096.82 982.43,1096.81 982.47,1096.81 982.51,1096.8 982.54,1096.79 982.58,1096.79 982.62,1096.78 982.66,1096.77 982.69,1096.77 982.73,1096.76 982.77,1096.76 982.8,1096.75 982.84,1096.74 982.88,1096.74 982.92,1096.73 982.95,1096.73 982.99,1096.72 983.03,1096.72 983.06,1096.71 983.1,1096.71 983.14,1096.7 983.21,1096.7 983.25,1096.69 983.29,1096.69 983.33,1096.68 983.4,1096.68 983.44,1096.67 983.51,1096.67 983.55,1096.66 983.66,1096.66 983.7,1096.65 983.81,1096.65 983.85,1096.64 983.92,1096.64 983.96,1096.63 984.07,1096.63 984.11,1096.62 984.22,1096.62 984.26,1096.61 984.37,1096.61 984.4,1096.6 984.55,1096.6 984.59,1096.59 984.74,1096.59 984.78,1096.58 984.92,1096.58 984.96,1096.57 985.11,1096.57 985.15,1096.56 985.33,1096.56 985.37,1096.55 985.59,1096.55 985.63,1096.54 985.93,1096.54 985.97,1096.53 986.38,1096.53 986.41,1096.52 987.27,1096.52 987.31,1096.51 988.35,1096.51 988.38,1096.5 989.87,1096.5 989.91,1096.49 1530.5,1096.49 1530.54,1097.93 1530.57,1100.9 1530.61,1104.93 1530.65,1109.52 1530.69,1116.2 1530.72,1124.92 1530.76,1133.15 1530.8,1140.76 1530.83,1148.29 1530.87,1155.8 1530.91,1163.37 1530.95,1171.04 1530.98,1178.68 1531.02,1186.15 1531.06,1193.35 1531.1,1200.43 1531.13,1207.33 1531.17,1214.01 1531.21,1220.43 1531.24,1226.72 1531.28,1232.85 1531.32,1238.73 1531.36,1244.27 1531.39,1249.43 1531.43,1254.3 1531.47,1258.76 1531.5,1262.63 1531.54,1266.28 1531.58,1269.56 1531.62,1272.17 1531.65,1274.01 1531.69,1275.68 1531.73,1277.04 1531.76,1277.89 1531.8,1277.99 1531.84,1277.16 1531.88,1275.64 1531.91,1273.75 1531.95,1271.74 1531.99,1269.17 1532.03,1265.93 1532.06,1262.13 1532.1,1257.5 1532.14,1251.62 1532.17,1244.82 1532.21,1236.51 1532.25,1227.23 1532.29,1218.02 1532.32,1209.09 1532.36,1200.11 1532.4,1191.34 1532.43,1182.95 1532.47,1174.77 1532.51,1166.85 1532.55,1159.24 1532.58,1151.82 1532.62,1144.6 1532.66,1137.72 1532.69,1131.35 1532.73,1125.44 1532.77,1119.82 1532.81,1114.48 1532.84,1109.4 1532.88,1104.57 1532.92,1099.97 1532.96,1095.53 1532.99,1091.23 1533.03,1087.09 1533.07,1083.13 1533.1,1079.35 1533.14,1075.76 1533.18,1072.37 1533.22,1069.18 1533.25,1066.19 1533.29,1063.43 1533.33,1060.9 1533.36,1058.58 1533.4,1056.42 1533.44,1054.37 1533.48,1052.38 1533.51,1050.4 1533.55,1048.38 1533.59,1046.28 1533.62,1044.13 1533.66,1041.96 1533.7,1039.81 1533.74,1037.71 1533.77,1035.71 1533.81,1033.85 1533.85,1032.11 1533.89,1030.46 1533.92,1028.87 1533.96,1027.33 1534,1025.85 1534.03,1024.4 1534.07,1022.98 1534.11,1021.58 1534.15,1020.2 1534.18,1018.81 1534.22,1017.4 1534.26,1015.99 1534.29,1014.65 1534.33,1013.39 1534.37,1012.28 1534.41,1011.35 1534.44,1010.57 1534.48,1009.84 1534.52,1009.08 1534.55,1008.31 1534.59,1007.54 1534.63,1006.75 1534.67,1005.94 1534.7,1005.11 1534.74,1004.33 1534.78,1003.64 1534.82,1003 1534.85,1002.39 1534.89,1001.78 1534.93,1001.15 1534.96,1000.51 1535,999.89 1535.04,999.29 1535.08,998.72 1535.11,998.18 1535.15,997.65 1535.19,997.14 1535.22,996.65 1535.26,996.16 1535.3,995.69 1535.34,995.23 1535.37,994.78 1535.41,994.35 1535.45,993.92 1535.48,993.49 1535.52,993.07 1535.56,992.65 1535.6,992.25 1535.63,991.87 1535.67,991.5 1535.71,991.16 1535.75,990.82 1535.78,990.51 1535.82,990.2 1535.86,989.9 1535.89,989.61 1535.93,989.32 1535.97,989.04 1536.01,988.76 1536.04,988.47 1536.08,988.19 1536.12,987.91 1536.15,987.64 1536.19,987.37 1536.23,987.11 1536.27,986.86 1536.3,986.62 1536.34,986.39 1536.38,986.18 1536.41,985.97 1536.45,985.76 1536.49,985.56 1536.53,985.37 1536.56,985.18 1536.6,985 1536.64,984.82 1536.68,984.64 1536.71,984.48 1536.75,984.31 1536.79,984.15 1536.82,984 1536.86,983.86 1536.9,983.71 1536.94,983.58 1536.97,983.44 1537.01,983.3 1537.05,983.16 1537.08,983.03 1537.12,982.89 1537.16,982.76 1537.2,982.64 1537.23,982.51 1537.27,982.39 1537.31,982.27 1537.34,982.15 1537.38,982.04 1537.42,981.93 1537.46,981.83 1537.49,981.73 1537.53,981.63 1537.57,981.54 1537.61,981.46 1537.64,981.38 1537.68,981.3 1537.72,981.24 1537.75,981.17 1537.79,981.11 1537.83,981.05 1537.87,980.99 1537.9,980.93 1537.94,980.88 1537.98,980.82 1538.01,980.76 1538.05,980.7 1538.09,980.65 1538.13,980.59 1538.16,980.54 1538.2,980.49 1538.24,980.43 1538.27,980.38 1538.31,980.33 1538.35,980.28 1538.39,980.22 1538.42,980.17 1538.46,980.13 1538.5,980.08 1538.54,980.03 1538.57,979.98 1538.61,979.94 1538.65,979.89 1538.68,979.84 1538.72,979.8 1538.76,979.76 1538.8,979.71 1538.83,979.67 1538.87,979.63 1538.91,979.59 1538.94,979.55 1538.98,979.51 1539.02,979.47 1539.06,979.43 1539.09,979.4 1539.13,979.36 1539.17,979.32 1539.2,979.29 1539.24,979.26 1539.28,979.22 1539.32,979.19 1539.35,979.16 1539.39,979.13 1539.43,979.1 1539.47,979.07 1539.5,979.04 1539.54,979.01 1539.58,978.99 1539.61,978.96 1539.65,978.94 1539.69,978.91 1539.73,978.89 1539.76,978.87 1539.8,978.84 1539.84,978.82 1539.87,978.8 1539.91,978.79 1539.95,978.77 1539.99,978.75 1540.02,978.73 1540.06,978.72 1540.1,978.7 1540.13,978.69 1540.17,978.68 1540.21,978.67 1540.25,978.66 1540.28,978.65 1540.32,978.64 1540.36,978.63 1540.4,978.62 1540.43,978.61 1540.47,978.6 1540.51,978.6 1540.54,978.59 1540.58,978.58 1540.62,978.58 1540.66,978.57 1540.69,978.57 1540.73,978.56 1540.77,978.55 1540.8,978.55 1540.84,978.54 1540.88,978.54 1540.92,978.53 1540.95,978.53 1540.99,978.52 1541.03,978.52 1541.06,978.51 1541.1,978.51 1541.14,978.5 1541.18,978.5 1541.21,978.49 1541.25,978.48 1541.29,978.48 1541.33,978.47 1541.4,978.47 1541.44,978.46 1541.47,978.46 1541.51,978.45 1541.55,978.45 1541.59,978.44 1541.62,978.44 1541.66,978.43 1541.73,978.43 1541.77,978.42 1541.85,978.42 1541.88,978.41 1541.92,978.41 1541.96,978.4 1542.03,978.4 1542.07,978.39 1542.14,978.39 1542.18,978.38 1542.26,978.38 1542.29,978.37 1542.37,978.37 1542.4,978.36 1542.48,978.36 1542.52,978.35 1542.63,978.35 1542.66,978.34 1542.78,978.34 1542.81,978.33 1542.96,978.33 1543,978.32 1543.11,978.32 1543.15,978.31 1543.3,978.31 1543.33,978.3 1543.48,978.3 1543.52,978.29 1543.71,978.29 1543.74,978.28 1543.93,978.28 1543.97,978.27 1544.19,978.27 1544.23,978.26 1544.49,978.26 1544.52,978.25 1544.86,978.25 1544.9,978.24 1545.31,978.24 1545.34,978.23 1545.83,978.23 1545.86,978.22 1546.42,978.22 1546.46,978.21 1547.31,978.21 1547.35,978.2 1549.36,978.2 1549.4,978.19 2088.5,978.19"/>
<g class="tl">
<text x="213" y="1479.9">0</text>
<text x="369" y="1479.9">500</text>
<text x="540" y="1479.9">1000</text>
<text x="726" y="1479.9">1500</text>
<text x="912" y="1479.9">2000</text>
<text x="1098" y="1479.9">2500</text>
<text x="1284" y="1479.9">3000</text>
<text x="1470" y="1479.9">3500</text>
<text x="1656" y="1479.9">4000</text>
<text x="1842" y="1479.9">4500</text>
<text x="2028" y="1479.9">5000</text>
<text x="148.3" y="1425.3">59</text>
<text x="100.62" y="1244.13">59.5</text>
<text x="148.3" y="1062.97">60</text>
<text x="100.62" y="881.8">60.5</text>
</g>
<text class="al" text-anchor="middle" x="1155" y="1562">Time (min)</text>
</g>
<g id="inset-b1">
<rect x="565.5" y="980.5" width="343" height="170" fill="#fff"/>
<path class="gr" d="M614.5 980.5V1150.5M761.5 980.5V1150.5M565.5 1094H908.5M565.5 1037.5H908.5"/>
<path class="ax" d="M614.5 1150.5v-4.6M614.5 980.5v4.6M761.5 1150.5v-4.6M761.5 980.5v4.6M565.5 1094h4.6M908.5 1094h-4.6M565.5 1037.5h4.6M908.5 1037.5h-4.6"/>
<rect class="ax" x="565.5" y="980.5" width="343" height="170"/>
<polyline class="cv" points="563.94,984.01 614.5,984.01 615.48,984.64 616.46,985.57 617.44,986.72 618.42,988.22 619.4,990.2 620.38,992.45 621.36,994.8 622.34,997.13 623.32,999.61 624.3,1002.21 625.28,1004.9 626.26,1007.66 627.24,1010.54 628.22,1013.58 629.2,1016.86 630.18,1020.28 631.16,1023.7 632.14,1027.16 633.12,1030.62 634.1,1034.13 635.08,1037.63 636.06,1040.83 637.04,1043.76 638.02,1046.56 639,1049.36 639.98,1052.14 640.96,1054.9 641.94,1057.71 642.92,1060.62 643.9,1063.55 644.88,1066.32 645.86,1068.91 646.84,1071.4 647.82,1073.77 648.8,1076.05 649.78,1078.22 650.76,1080.32 651.74,1082.36 652.72,1084.35 653.7,1086.35 654.68,1088.31 655.66,1090.19 656.64,1091.91 657.62,1093.47 658.6,1094.94 659.58,1096.33 660.56,1097.65 661.54,1098.9 662.52,1100.08 663.5,1101.19 664.48,1102.23 665.46,1103.2 666.44,1104.11 667.42,1104.98 668.4,1105.8 669.38,1106.66 670.36,1107.56 671.34,1108.42 672.32,1109.16 673.3,1109.69 674.28,1109.95 675.26,1110.11 676.24,1110.24 677.22,1110.36 678.2,1110.44 679.18,1110.49 680.16,1110.5 681.14,1110.48 682.12,1110.42 683.1,1110.34 684.08,1110.25 685.06,1110.15 686.04,1110.05 687.02,1109.95 688,1109.83 688.98,1109.69 689.96,1109.54 690.94,1109.39 691.92,1109.25 692.9,1109.1 693.88,1108.98 694.86,1108.85 695.84,1108.72 696.82,1108.59 697.8,1108.47 698.78,1108.35 699.76,1108.24 700.74,1108.14 701.72,1108.06 702.7,1108 703.68,1107.95 704.66,1107.91 705.64,1107.86 706.62,1107.82 707.6,1107.78 708.58,1107.74 709.56,1107.71 710.54,1107.68 711.52,1107.66 712.5,1107.64 713.48,1107.62 714.46,1107.61 715.44,1107.6 716.42,1107.6 717.4,1107.61 718.38,1107.62 719.36,1107.64 720.34,1107.66 721.32,1107.69 722.3,1107.72 723.28,1107.76 724.26,1107.79 725.24,1107.83 726.22,1107.87 727.2,1107.9 728.18,1107.94 729.16,1107.97 730.14,1108 731.12,1108.03 732.1,1108.07 733.08,1108.1 734.06,1108.13 735.04,1108.16 736.02,1108.2 737,1108.23 737.98,1108.27 738.96,1108.3 739.94,1108.34 740.92,1108.37 741.9,1108.41 742.88,1108.44 743.86,1108.48 744.84,1108.51 745.82,1108.55 746.8,1108.58 747.78,1108.62 748.76,1108.65 749.74,1108.68 750.72,1108.72 751.7,1108.75 752.68,1108.78 753.66,1108.81 754.64,1108.84 755.62,1108.87 756.6,1108.9 757.58,1108.92 758.56,1108.95 759.54,1108.97 760.52,1108.99 761.5,1109.01 762.48,1109.03 763.46,1109.05 764.44,1109.07 765.42,1109.09 766.4,1109.11 767.38,1109.13 768.36,1109.15 769.34,1109.17 770.32,1109.19 771.3,1109.21 772.28,1109.23 773.26,1109.25 774.24,1109.27 775.22,1109.29 776.2,1109.31 777.18,1109.32 778.16,1109.34 779.14,1109.36 780.12,1109.38 781.1,1109.4 782.08,1109.41 783.06,1109.43 784.04,1109.45 785.02,1109.47 786,1109.48 786.98,1109.5 787.96,1109.52 788.94,1109.53 789.92,1109.55 790.9,1109.56 791.88,1109.58 792.86,1109.59 793.84,1109.61 794.82,1109.62 795.8,1109.64 796.78,1109.65 797.76,1109.67 798.74,1109.68 799.72,1109.7 800.7,1109.71 801.68,1109.72 802.66,1109.74 803.64,1109.75 804.62,1109.76 805.6,1109.78 806.58,1109.79 807.56,1109.8 808.54,1109.81 809.52,1109.82 810.5,1109.83 811.48,1109.84 812.46,1109.86 813.44,1109.87 814.42,1109.88 815.4,1109.89 816.38,1109.9 817.36,1109.91 818.34,1109.91 819.32,1109.92 820.3,1109.93 821.28,1109.94 822.26,1109.95 823.24,1109.96 824.22,1109.96 825.2,1109.97 826.18,1109.98 827.16,1109.98 828.14,1109.99 829.12,1110 830.1,1110 831.08,1110.01 832.06,1110.01 833.04,1110.02 835,1110.02 835.98,1110.03 836.96,1110.03 837.94,1110.04 839.9,1110.04 840.88,1110.05 842.84,1110.05 843.82,1110.06 845.78,1110.06 846.76,1110.07 848.72,1110.07 849.7,1110.08 852.64,1110.08 853.62,1110.09 855.58,1110.09 856.56,1110.1 859.5,1110.1 860.48,1110.11 863.42,1110.11 864.4,1110.12 868.32,1110.12 869.3,1110.13 873.22,1110.13 874.2,1110.14 879.1,1110.14 880.08,1110.15 884.98,1110.15 885.96,1110.16 891.84,1110.16 892.82,1110.17 900.66,1110.17 901.64,1110.18 910.06,1110.18"/>
<g class="tl">
<text x="569" y="1226.4">500</text>
<text x="716" y="1226.4">515</text>
<text x="863" y="1226.4">530</text>
<text x="436.52" y="1171.8">59.0</text>
<text x="436.52" y="1115.3">59.4</text>
<text x="436.52" y="1058.8">59.8</text>
<text x="436.52" y="1001.8">60.2</text>
</g>
</g>
<g id="inset-b2">
<rect x="1142" y="1127.5" width="323.5" height="166.5" fill="#fff"/>
<path class="gr" d="M1188.5 1127.5V1294M1326.5 1127.5V1294M1142 1238.5H1465.5M1142 1182.5H1465.5"/>
<path class="ax" d="M1188.5 1294v-4.6M1188.5 1127.5v4.6M1326.5 1294v-4.6M1326.5 1127.5v4.6M1142 1238.5h4.6M1465.5 1238.5h-4.6M1142 1182.5h4.6M1465.5 1182.5h-4.6"/>
<rect class="ax" x="1142" y="1127.5" width="323.5" height="166.5"/>
<polyline class="cv" points="1140.44,1254.56 1188.21,1254.56 1189.14,1254.81 1190.06,1255.03 1190.99,1255.21 1191.91,1255.37 1192.84,1255.51 1193.76,1255.6 1194.68,1255.49 1195.61,1255.09 1196.53,1254.58 1197.46,1253.91 1198.38,1253.01 1199.31,1252.03 1200.23,1251.07 1201.15,1250.14 1202.08,1249.2 1203,1248.22 1203.93,1247.21 1204.85,1246.14 1205.78,1245 1206.7,1243.75 1207.62,1242.39 1208.55,1240.96 1209.47,1239.49 1210.4,1238.01 1211.32,1236.57 1212.25,1235.15 1213.17,1233.72 1214.09,1232.27 1215.02,1230.77 1215.94,1229.24 1216.87,1227.72 1217.79,1226.2 1218.72,1224.69 1219.64,1223.24 1220.56,1221.89 1221.49,1220.6 1222.41,1219.37 1223.34,1218.21 1224.26,1217.11 1225.19,1216 1226.11,1214.77 1227.03,1213.45 1227.96,1212.15 1228.88,1210.98 1229.81,1209.89 1230.73,1208.84 1231.66,1207.77 1232.58,1206.69 1233.5,1205.64 1234.43,1204.65 1235.35,1203.7 1236.28,1202.79 1237.2,1201.93 1238.13,1201.11 1239.05,1200.32 1239.97,1199.58 1240.9,1198.88 1241.82,1198.19 1242.75,1197.53 1243.67,1196.89 1244.6,1196.26 1245.52,1195.66 1246.44,1195.07 1247.37,1194.49 1248.29,1193.94 1249.22,1193.39 1250.14,1192.87 1251.07,1192.36 1251.99,1191.87 1252.91,1191.4 1253.84,1190.93 1254.76,1190.48 1255.69,1190.05 1256.61,1189.64 1257.54,1189.24 1258.46,1188.86 1259.38,1188.49 1260.31,1188.13 1261.23,1187.79 1262.16,1187.45 1263.08,1187.12 1264.01,1186.8 1264.93,1186.48 1265.85,1186.19 1266.78,1185.92 1267.7,1185.68 1268.63,1185.45 1269.55,1185.23 1270.48,1185.01 1271.4,1184.77 1272.32,1184.53 1273.25,1184.3 1274.17,1184.08 1275.1,1183.87 1276.02,1183.67 1276.95,1183.47 1277.87,1183.28 1278.79,1183.1 1279.72,1182.92 1280.64,1182.74 1281.57,1182.56 1282.49,1182.38 1283.42,1182.21 1284.34,1182.05 1285.26,1181.89 1286.19,1181.73 1287.11,1181.58 1288.04,1181.43 1288.96,1181.29 1289.89,1181.15 1290.81,1181.01 1291.73,1180.88 1292.66,1180.75 1293.58,1180.62 1294.51,1180.49 1295.43,1180.37 1296.36,1180.25 1297.28,1180.14 1298.2,1180.03 1299.13,1179.93 1300.05,1179.83 1300.98,1179.74 1301.9,1179.64 1302.83,1179.55 1303.75,1179.46 1304.67,1179.38 1305.6,1179.3 1306.52,1179.22 1307.45,1179.14 1308.37,1179.06 1309.3,1178.99 1310.22,1178.92 1311.14,1178.85 1312.07,1178.78 1312.99,1178.71 1313.92,1178.64 1314.84,1178.57 1315.77,1178.51 1316.69,1178.45 1317.61,1178.39 1318.54,1178.33 1319.46,1178.27 1320.39,1178.21 1321.31,1178.16 1322.24,1178.11 1323.16,1178.06 1324.08,1178.01 1325.01,1177.97 1325.93,1177.92 1326.86,1177.88 1327.78,1177.83 1328.71,1177.79 1329.63,1177.75 1330.55,1177.7 1331.48,1177.66 1332.4,1177.62 1333.33,1177.58 1334.25,1177.54 1335.18,1177.5 1336.1,1177.46 1337.02,1177.43 1337.95,1177.39 1338.87,1177.36 1339.8,1177.32 1340.72,1177.29 1341.65,1177.26 1342.57,1177.23 1343.49,1177.2 1344.42,1177.17 1345.34,1177.14 1346.27,1177.11 1347.19,1177.09 1348.12,1177.07 1349.04,1177.04 1349.96,1177.02 1350.89,1177 1351.81,1176.99 1352.74,1176.97 1353.66,1176.95 1354.59,1176.94 1355.51,1176.92 1356.43,1176.91 1357.36,1176.9 1358.28,1176.88 1359.21,1176.87 1360.13,1176.86 1361.06,1176.85 1361.98,1176.84 1362.9,1176.82 1363.83,1176.81 1364.75,1176.8 1365.68,1176.79 1366.6,1176.78 1367.53,1176.77 1368.45,1176.76 1369.37,1176.75 1370.3,1176.74 1371.22,1176.73 1372.15,1176.72 1373.07,1176.71 1374,1176.7 1374.92,1176.7 1375.84,1176.69 1376.77,1176.68 1377.69,1176.67 1378.62,1176.66 1379.54,1176.65 1380.47,1176.64 1381.39,1176.64 1382.31,1176.63 1383.24,1176.62 1384.16,1176.61 1385.09,1176.61 1386.01,1176.6 1386.94,1176.59 1387.86,1176.58 1388.78,1176.58 1389.71,1176.57 1390.63,1176.57 1391.56,1176.56 1392.48,1176.55 1393.41,1176.55 1394.33,1176.54 1395.25,1176.53 1396.18,1176.53 1397.1,1176.52 1398.03,1176.52 1398.95,1176.51 1399.88,1176.51 1400.8,1176.5 1401.72,1176.5 1402.65,1176.49 1403.57,1176.49 1404.5,1176.48 1405.42,1176.48 1406.35,1176.47 1407.27,1176.47 1408.19,1176.46 1409.12,1176.46 1410.04,1176.45 1410.97,1176.45 1411.89,1176.44 1413.74,1176.44 1414.66,1176.43 1416.51,1176.43 1417.44,1176.42 1419.29,1176.42 1420.21,1176.41 1422.06,1176.41 1422.98,1176.4 1425.76,1176.4 1426.68,1176.39 1428.53,1176.39 1429.45,1176.38 1432.23,1176.38 1433.15,1176.37 1435,1176.37 1435.92,1176.36 1438.7,1176.36 1439.62,1176.35 1443.32,1176.35 1444.24,1176.34 1447.94,1176.34 1448.86,1176.33 1452.56,1176.33 1453.48,1176.32 1459.03,1176.32 1459.95,1176.31 1467.06,1176.31"/>
<g class="tl">
<text x="1128" y="1369.9">2000</text>
<text x="1266" y="1369.9">2015</text>
<text x="1405" y="1369.9">2030</text>
<text x="1013.02" y="1315.3">59.0</text>
<text x="1013.02" y="1259.8">59.4</text>
<text x="1013.02" y="1203.8">59.8</text>
<text x="1013.02" y="1148.8">60.2</text>
</g>
</g>
<g id="inset-b3">
<rect x="1692" y="1047.5" width="330" height="170" fill="#fff"/>
<path class="gr" d="M1739 1047.5V1217.5M1880.5 1047.5V1217.5M1692 1160.5H2022M1692 1104H2022"/>
<path class="ax" d="M1739 1217.5v-4.6M1739 1047.5v4.6M1880.5 1217.5v-4.6M1880.5 1047.5v4.6M1692 1160.5h4.6M2022 1160.5h-4.6M1692 1104h4.6M2022 1104h-4.6"/>
<rect class="ax" x="1692" y="1047.5" width="330" height="170"/>
<polyline class="cv" points="1690.44,1097.13 1739.14,1097.13 1740.09,1097.69 1741.03,1098.85 1741.97,1100.43 1742.91,1102.23 1743.86,1104.84 1744.8,1108.25 1745.74,1111.48 1746.69,1114.46 1747.63,1117.41 1748.57,1120.35 1749.51,1123.31 1750.46,1126.31 1751.4,1129.3 1752.34,1132.22 1753.29,1135.04 1754.23,1137.81 1755.17,1140.51 1756.11,1143.13 1757.06,1145.64 1758,1148.11 1758.94,1150.51 1759.89,1152.81 1760.83,1154.98 1761.77,1156.99 1762.71,1158.9 1763.66,1160.65 1764.6,1162.16 1765.54,1163.59 1766.49,1164.88 1767.43,1165.9 1768.37,1166.62 1769.31,1167.27 1770.26,1167.8 1771.2,1168.13 1772.14,1168.17 1773.09,1167.85 1774.03,1167.25 1774.97,1166.51 1775.91,1165.73 1776.86,1164.72 1777.8,1163.45 1778.74,1161.97 1779.69,1160.15 1780.63,1157.85 1781.57,1155.19 1782.51,1151.94 1783.46,1148.3 1784.4,1144.7 1785.34,1141.2 1786.29,1137.69 1787.23,1134.26 1788.17,1130.97 1789.11,1127.77 1790.06,1124.67 1791,1121.69 1791.94,1118.79 1792.89,1115.96 1793.83,1113.27 1794.77,1110.77 1795.71,1108.46 1796.66,1106.26 1797.6,1104.17 1798.54,1102.18 1799.49,1100.29 1800.43,1098.49 1801.37,1096.75 1802.31,1095.07 1803.26,1093.45 1804.2,1091.9 1805.14,1090.42 1806.09,1089.01 1807.03,1087.69 1807.97,1086.44 1808.91,1085.27 1809.86,1084.19 1810.8,1083.19 1811.74,1082.29 1812.69,1081.44 1813.63,1080.64 1814.57,1079.86 1815.51,1079.08 1816.46,1078.29 1817.4,1077.47 1818.34,1076.63 1819.29,1075.78 1820.23,1074.94 1821.17,1074.12 1822.11,1073.33 1823.06,1072.61 1824,1071.93 1824.94,1071.28 1825.89,1070.66 1826.83,1070.06 1827.77,1069.47 1828.71,1068.91 1829.66,1068.35 1830.6,1067.8 1831.54,1067.26 1832.49,1066.72 1833.43,1066.17 1834.37,1065.62 1835.31,1065.09 1836.26,1064.6 1837.2,1064.16 1838.14,1063.8 1839.09,1063.49 1840.03,1063.21 1840.97,1062.91 1841.91,1062.61 1842.86,1062.31 1843.8,1062 1844.74,1061.68 1845.69,1061.36 1846.63,1061.05 1847.57,1060.78 1848.51,1060.53 1849.46,1060.29 1850.4,1060.05 1851.34,1059.81 1852.29,1059.56 1853.23,1059.31 1854.17,1059.08 1855.11,1058.86 1856.06,1058.64 1857,1058.44 1857.94,1058.24 1858.89,1058.04 1859.83,1057.85 1860.77,1057.67 1861.71,1057.49 1862.66,1057.31 1863.6,1057.14 1864.54,1056.97 1865.49,1056.81 1866.43,1056.64 1867.37,1056.48 1868.31,1056.32 1869.26,1056.17 1870.2,1056.03 1871.14,1055.89 1872.09,1055.76 1873.03,1055.64 1873.97,1055.52 1874.91,1055.4 1875.86,1055.29 1876.8,1055.18 1877.74,1055.07 1878.69,1054.95 1879.63,1054.84 1880.57,1054.73 1881.51,1054.62 1882.46,1054.52 1883.4,1054.41 1884.34,1054.31 1885.29,1054.21 1886.23,1054.12 1887.17,1054.03 1888.11,1053.95 1889.06,1053.86 1890,1053.78 1890.94,1053.71 1891.89,1053.63 1892.83,1053.56 1893.77,1053.48 1894.71,1053.41 1895.66,1053.35 1896.6,1053.28 1897.54,1053.22 1898.49,1053.15 1899.43,1053.09 1900.37,1053.04 1901.31,1052.98 1902.26,1052.93 1903.2,1052.87 1904.14,1052.82 1905.09,1052.77 1906.03,1052.71 1906.97,1052.66 1907.91,1052.61 1908.86,1052.56 1909.8,1052.51 1910.74,1052.46 1911.69,1052.42 1912.63,1052.37 1913.57,1052.33 1914.51,1052.28 1915.46,1052.24 1916.4,1052.2 1917.34,1052.17 1918.29,1052.13 1919.23,1052.1 1920.17,1052.07 1921.11,1052.04 1922.06,1052.01 1923,1051.99 1923.94,1051.96 1924.89,1051.94 1925.83,1051.92 1926.77,1051.89 1927.71,1051.87 1928.66,1051.85 1929.6,1051.83 1930.54,1051.8 1931.49,1051.78 1932.43,1051.76 1933.37,1051.74 1934.31,1051.72 1935.26,1051.7 1936.2,1051.68 1937.14,1051.66 1938.09,1051.64 1939.03,1051.62 1939.97,1051.6 1940.91,1051.58 1941.86,1051.56 1942.8,1051.54 1943.74,1051.52 1944.69,1051.5 1945.63,1051.48 1946.57,1051.47 1947.51,1051.45 1948.46,1051.43 1949.4,1051.42 1950.34,1051.4 1951.29,1051.38 1952.23,1051.37 1953.17,1051.35 1954.11,1051.34 1955.06,1051.32 1956,1051.31 1956.94,1051.29 1957.89,1051.28 1958.83,1051.26 1959.77,1051.25 1960.71,1051.24 1961.66,1051.22 1962.6,1051.21 1963.54,1051.2 1964.49,1051.19 1965.43,1051.17 1966.37,1051.16 1967.31,1051.15 1968.26,1051.14 1969.2,1051.13 1970.14,1051.12 1971.09,1051.11 1972.03,1051.1 1972.97,1051.09 1973.91,1051.08 1974.86,1051.08 1975.8,1051.07 1976.74,1051.06 1977.69,1051.05 1978.63,1051.05 1979.57,1051.04 1980.51,1051.03 1981.46,1051.03 1982.4,1051.02 1983.34,1051.02 1984.29,1051.01 1985.23,1051.01 1986.17,1051 1987.11,1051 1988.06,1050.99 1989.94,1050.99 1990.89,1050.98 1993.71,1050.98 1994.66,1050.97 1997.49,1050.97 1998.43,1050.96 2002.2,1050.96 2003.14,1050.95 2005.97,1050.95 2006.91,1050.94 2010.69,1050.94 2011.63,1050.93 2016.34,1050.93 2017.29,1050.92 2021.06,1050.92 2022,1050.91 2023.56,1050.91"/>
<g class="tl">
<text x="1678.5" y="1293.4">3500</text>
<text x="1820" y="1293.4">3515</text>
<text x="1961.5" y="1293.4">3530</text>
<text x="1563.02" y="1238.8">59.0</text>
<text x="1563.02" y="1181.8">59.4</text>
<text x="1563.02" y="1125.3">59.8</text>
<text x="1563.02" y="1068.8">60.2</text>
</g>
</g>
<g class="al" transform="translate(99.3,0) rotate(-90)">
<text x="-505.34" y="0">X</text>
<text x="-463.45" y="25.9" font-size="44.5">M</text>
<text x="-426.35" y="25.9" font-size="44.5">E</text>
<text x="-379.69" y="0">(</text>
<text x="-360.82" y="0">%</text>
<text x="-310" y="0">g</text>
<text x="-262.1" y="0">g</text>
<text x="-231.08" y="-27.3" font-size="44.5">-</text>
<text x="-213.38" y="-27.3" font-size="44.5">1</text>
<rect fill="#fff" x="-211.19" y="-31.22" width="8.7" height="4.92"/>
<rect fill="#fff" x="-197.96" y="-31.22" width="8.35" height="4.92"/>
<text x="-186.45" y="0">)</text>
</g>
<text class="al" text-anchor="middle" transform="translate(76,1139.5) rotate(-90)">Temperature (°C)</text>
<g fill="#fff"><rect x="542.91" y="674.77" width="10.36" height="5.63"/><rect x="558.63" y="674.77" width="9.93" height="5.63"/><rect x="728.91" y="674.77" width="10.36" height="5.63"/><rect x="744.63" y="674.77" width="9.93" height="5.63"/><rect x="727.41" y="551.77" width="10.36" height="5.63"/><rect x="743.13" y="551.77" width="9.93" height="5.63"/><rect x="1297.91" y="441.77" width="10.36" height="5.63"/><rect x="1313.63" y="441.77" width="9.93" height="5.63"/><rect x="1852.41" y="504.77" width="10.36" height="5.63"/><rect x="1868.13" y="504.77" width="9.93" height="5.63"/><rect x="542.91" y="1475.27" width="10.36" height="5.63"/><rect x="558.63" y="1475.27" width="9.93" height="5.63"/><rect x="728.91" y="1475.27" width="10.36" height="5.63"/><rect x="744.63" y="1475.27" width="9.93" height="5.63"/><rect x="748.91" y="1221.77" width="10.36" height="5.63"/><rect x="764.63" y="1221.77" width="9.93" height="5.63"/><rect x="1328.91" y="1365.27" width="10.36" height="5.63"/><rect x="1344.63" y="1365.27" width="9.93" height="5.63"/><rect x="1882.91" y="1288.77" width="10.36" height="5.63"/><rect x="1898.63" y="1288.77" width="9.93" height="5.63"/></g>
</svg>
</body>
</html>
